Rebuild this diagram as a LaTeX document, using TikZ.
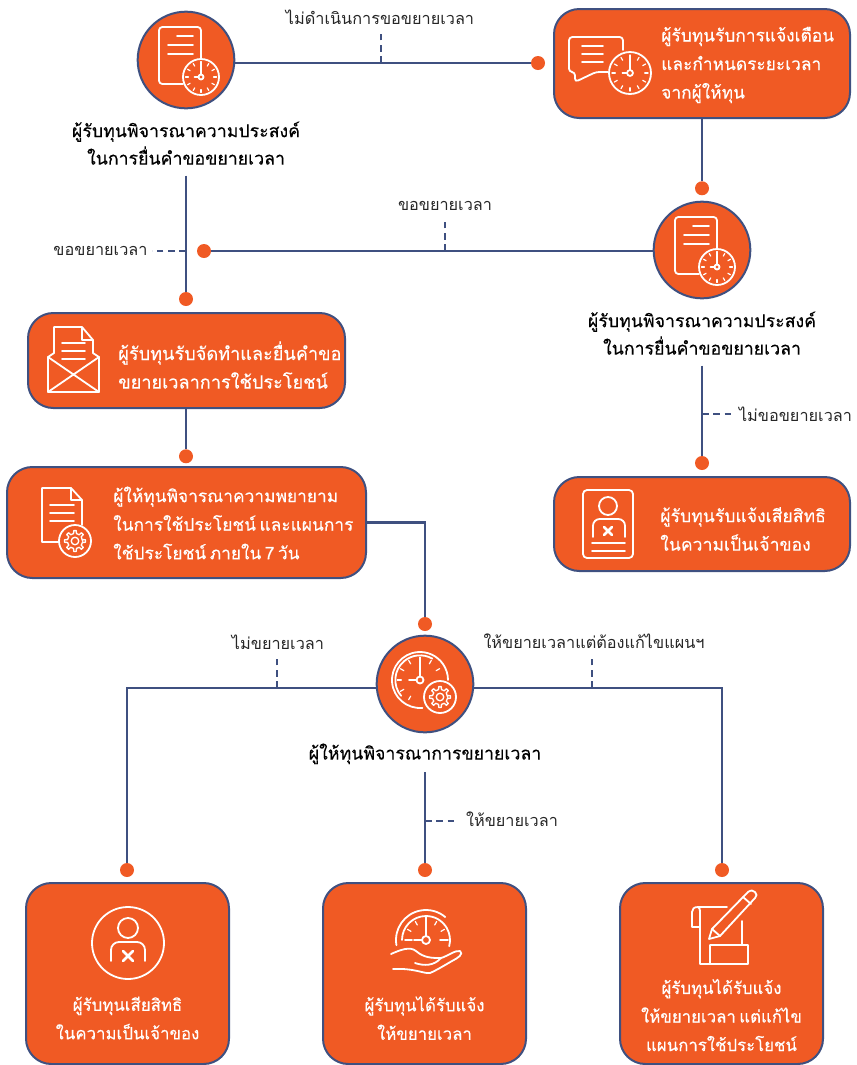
\documentclass[tikz,border=0pt]{standalone}
\usepackage{fontspec}
\setmainfont[Script=Thai,WordSpace=0.6]{Loma}
\newfontfamily\heavyfont[Script=Thai,WordSpace=0.6,FakeBold=0.3]{Loma}
\usepackage{xcolor}
\definecolor{fundorange}{HTML}{F05A24}
\definecolor{fundnavy}{HTML}{3F5080}
\usepackage{tikz}
\usetikzlibrary{positioning}

\tikzset{
    panel/.style={draw=fundnavy,fill=fundorange,line width=1.5pt,rounded corners=19pt,inner sep=0pt},
    hub/.style={circle,draw=fundnavy,fill=fundorange,line width=1.5pt,minimum size=72.5pt,inner sep=0pt},
    dot/.style={circle,fill=fundorange,minimum size=10.5pt,inner sep=0pt},
    link/.style={draw=fundnavy,line width=1.6pt},
    dashlink/.style={draw=fundnavy,line width=1.3pt,dash pattern=on 5pt off 3.5pt},
    words/.style={font=\fontsize{12.2}{21.4}\selectfont,align=center,text=black!85,inner sep=1pt},
    caption/.style={font=\heavyfont\fontsize{13.3}{20.6}\selectfont,align=center,text=black,inner xsep=1pt,inner ysep=8pt},
    inbox/.style={font=\heavyfont\fontsize{13.2}{21.4}\selectfont,align=left,text=white,anchor=west,inner sep=0pt},
    inboxc/.style={font=\heavyfont\fontsize{12.6}{21.4}\selectfont,align=center,text=white,inner sep=0pt},
    icon/.style={draw=white,line width=1.35pt,line cap=round,line join=round},
    pics/clockface/.style={code={
        \draw[icon] (0,0) circle (10);
        \draw[icon] (0,0) circle (1.4);
        \foreach \a in {0,30,...,330} \draw[icon,line width=.9pt] (\a:7) -- (\a:8.6);
        \draw[icon] (0,-1.4) -- (0,-7.5);
        \draw[icon] (-1.4,0) -- (-3.6,0);
    }},
    pics/gearface/.style={code={
        \draw[icon,line width=1pt] (0:7.2) \foreach \a in {0,45,...,315} {-- (\a-11:7.2) -- (\a-7:10) -- (\a+7:10) -- (\a+11:7.2)} -- cycle;
        \draw[icon,line width=1pt] (0,0) circle (3.6);
    }},
    pics/docclock/.style={code={
        \draw[icon,rounded corners=2.5pt] (-3,24) -- (-27,24) -- (-27,-33) -- (15,-33) -- (15,-1);
        \draw[icon] (-9,-24) -- (7,-24) (-18,-15) -- (7,-15) (-18,-6) -- (7,-6);
        \pic[scale=1.8] at (15,17) {clockface};
    }}
}

\begin{document}
\begin{tikzpicture}[x=0.75pt,y=-0.75pt]
    \useasboundingbox (0,0) rectangle (857,1065);

    \node[hub] (c1) at (186,60) {};
    \node[hub] (c2) at (702,250) {};
    \node[hub] (c3) at (425,684) {};

    \node[panel,minimum width=222pt,minimum height=81.75pt] (b1) at (702,63.5) {};
    \node[panel,minimum width=237.75pt,minimum height=71.25pt] (b2) at (186.5,360.5) {};
    \node[panel,minimum width=269.25pt,minimum height=83.25pt] (b3) at (186.5,522.5) {};
    \node[panel,minimum width=222pt,minimum height=70.5pt] (b4) at (702,524) {};
    \node[panel,minimum width=152.25pt,minimum height=135.75pt] (b5) at (127.5,973.5) {};
    \node[panel,minimum width=152.25pt,minimum height=135.75pt] (b6) at (424.5,973.5) {};
    \node[panel,minimum width=152.25pt,minimum height=135.75pt] (b7) at (721.5,973.5) {};

    \node[caption] (t1) [below=1pt of c1] {ผู้รับทุนพิจารณาความประสงค์\\ในการยื่นคำขอขยายเวลา};
    \node[caption] (t2) [below=1pt of c2] {ผู้รับทุนพิจารณาความประสงค์\\ในการยื่นคำขอขยายเวลา};
    \node[caption,inner ysep=6pt] (t3) [below=1.5pt of c3] {ผู้ให้ทุนพิจารณาการขยายเวลา};

    \node[inbox,font=\heavyfont\fontsize{13}{21.4}\selectfont] (s1) at (661,65) {ผู้รับทุนรับการแจ้งเตือน\\และกำหนดระยะเวลา\\จากผู้ให้ทุน};
    \node[inbox,font=\heavyfont\fontsize{13.6}{21.4}\selectfont] (s2) at (118,365) {ผู้รับทุนรับจัดทำและยื่นคำขอ\\ขยายเวลาการใช้ประโยชน์};
    \node[inbox,font=\heavyfont\fontsize{13}{21.4}\selectfont] (s3) at (113,523) {ผู้ให้ทุนพิจารณาความพยายาม\\ในการใช้ประโยชน์ และแผนการ\\ใช้ประโยชน์ ภายใน 7 วัน};
    \node[inbox] (s4) at (660,529) {ผู้รับทุนรับแจ้งเสียสิทธิ\\ในความเป็นเจ้าของ};
    \node[inboxc] (s5) at (127.5,1018) {ผู้รับทุนเสียสิทธิ\\ในความเป็นเจ้าของ};
    \node[inboxc] (s6) at (424.5,1018) {ผู้รับทุนได้รับแจ้ง\\ให้ขยายเวลา};
    \node[inboxc] (s7) at (721.5,1015) {ผู้รับทุนได้รับแจ้ง\\ให้ขยายเวลา แต่แก้ไข\\แผนการใช้ประโยชน์};

    \node[words] (l1) at (380,17) {ไม่ดำเนินการขอขยายเวลา};
    \node[words] (l2) at (445,206) {ขอขยายเวลา};
    \node[words] (l3) at (100.5,251) {ขอขยายเวลา};
    \node[words] (l4) at (795.5,414) {ไม่ขอขยายเวลา};
    \node[words] (l5) at (278,642) {ไม่ขยายเวลา};
    \node[words] (l6) at (594,641) {ให้ขยายเวลาแต่ต้องแก้ไขแผนฯ};
    \node[words] (l7) at (512,819) {ให้ขยายเวลา};

    \node[dot] (d1) at (538,63) {};
    \node[dot] (d2) [below=46.5pt of b1] {};
    \node[dot] (d3) at (204,251) {};
    \node[dot] (d4) at (186,299) {};
    \node[dot] (d5) [below=30pt of b2.south -| c1] {};
    \node[dot] (d6) at (425,624) {};
    \node[dot] (d7) at (702,463) {};
    \node[dot] (d8) at (127,870) {};
    \node[dot] (d9) at (425,870) {};
    \node[dot] (d10) at (722,870) {};

    \path[link] (d1 -| c1.east) edge (d1)
                (b1) edge (d2)
                (d3) edge (d3 -| c2.west)
                (t1) edge (d4)
                (b2.south -| d5) edge (d5)
                (t2) edge (d7)
                (t3) edge (d9);
    \draw[link] (b3.east) -| (d6);
    \draw[link] (c3.185) -| (d8);
    \draw[link] (c3.-5) -| (d10);

    \path (381,63) coordinate (k1) (381,32) coordinate (k1e);
    \path (445,251) coordinate (k2) (445,220) coordinate (k2e);
    \path (186,251) coordinate (k3) (152,251) coordinate (k3e);
    \path (702,414) coordinate (k4) (733,414) coordinate (k4e);
    \path (277,688) coordinate (k5) (277,657) coordinate (k5e);
    \path (592,688) coordinate (k6) (592,657) coordinate (k6e);
    \path (425,821) coordinate (k7) (457,821) coordinate (k7e);
    \foreach \k in {k1,k2,k3,k4,k5,k6,k7}
        \draw[dashlink] (\k) -- (\k e);

    % icons on the circles
    \pic at (c1) {docclock};
    \pic at (c2) {docclock};
    \draw[icon] (420,680) ++(-85:21pt) arc[start angle=-85,end angle=-360,radius=21pt];
    \draw[icon] (420,680) ++(-140:18.5pt) arc[start angle=-140,end angle=-300,radius=18.5pt];
    \foreach \a in {180,150,120,90,60,30,210,240}
        \draw[icon,line width=.9pt] (420,680) ++(\a:14pt) -- ++(\a:3pt);
    \draw[icon] (420,676.5) -- (420,660) (416.5,680) -- (409,680);
    \draw[icon] (420,680) circle (3.5);
    \draw[icon,fill=fundorange] (440,697) circle (16);
    \pic[scale=1.05] at (440,697) {gearface};

    % bubble and clock
    \draw[icon,rounded corners=2.5pt] (623,50) -- (623,37) -- (569,37) -- (569,72) -- (575,72) -- (575,82) -- (596,72) -- (608,72);
    \draw[icon] (582,46) -- (603,46) (582,54) -- (603,54) (582,62) -- (603,62);
    \pic[scale=2.1] at (630,73) {clockface};

    % letter
    \draw[icon] (54,353) -- (54,327) -- (82,327) -- (93,340) -- (93,353) (82,327) -- (82,340) -- (93,340);
    \draw[icon] (62,343) -- (85,343) (62,351) -- (85,351) (62,359) -- (85,359);
    \draw[icon] (54,353) -- (48,357) -- (48,392) -- (99,392) -- (99,357) -- (93,353);
    \draw[icon] (48,357) -- (99,392) (99,357) -- (48,392);

    % paper and gear
    \draw[icon] (59,542) -- (42,542) -- (42,488) -- (71,488) -- (82,500) -- (82,525) (71,488) -- (71,500) -- (82,500);
    \draw[icon] (50,505) -- (74,505) (50,513) -- (74,513) (50,521) -- (74,521);
    \draw[icon] (75,541) circle (16);
    \pic[scale=1.05] at (75,541) {gearface};

    % card
    \draw[icon,rounded corners=3pt] (583,490) rectangle (633,558);
    \draw[icon] (608,506) circle (9);
    \draw[icon,rounded corners=5pt] (593,537) -- (593,519) -- (625,519) -- (625,537);
    \draw[icon,line width=2pt] (604,527) -- (612,535) (612,527) -- (604,535);
    \draw[icon] (592,543) -- (625,543) (592,551) -- (625,551);

    % lost rights
    \draw[icon] (128,943) circle (36);
    \draw[icon] (128,928) circle (10);
    \draw[icon,rounded corners=6pt] (111,961) -- (111,942) -- (145,942) -- (145,961);
    \draw[icon,line width=2pt] (123,951) -- (133,961) (133,951) -- (123,961);

    % gauge over a hand
    \draw[icon] (426,940) ++(190:22.5pt) arc[start angle=190,end angle=50,radius=22.5pt];
    \draw[icon] (426,940) ++(180:18pt) arc[start angle=180,end angle=-15,radius=18pt];
    \foreach \a in {30,60,120,150}
        \draw[icon,line width=.9pt] (426,940) ++(\a:13pt) -- ++(\a:3pt);
    \draw[icon] (426,936) -- (426,917) (422,940) -- (414,940) (405,940) -- (412,940) (440,940) -- (448,940);
    \draw[icon] (426,940) circle (4);
    \draw[icon] (391,954) .. controls (400,950) and (410,946) .. (416,951) .. controls (424,958) and (432,958) .. (441,958) .. controls (448,956) and (455,950) .. (460,951) .. controls (464,954) and (458,958) .. (452,961) .. controls (445,965) and (437,970) .. (430,973) .. controls (424,974) and (415,968) .. (393,969);
    \draw[icon] (415,963) .. controls (424,966) and (434,966) .. (441,958);

    % scroll and pencil
    \draw[icon] (727,907) -- (698,907) .. controls (694,907) and (692,909) .. (692,912) -- (692,927) -- (700,927);
    \draw[icon] (698,907) .. controls (700,908) and (700,910) .. (700,912) -- (700,964) -- (748,964) -- (748,945) -- (710,945) -- (710,964);
    \draw[icon] (742,921) -- (742,945);
    \draw[icon,line join=round] (709,939) -- (712,929) -- (748,892) .. controls (751,890) and (753,890) .. (755,892) .. controls (757,894) and (757,896) .. (755,898) -- (720,936) -- cycle;
    \draw[icon] (712,929) -- (720,936) (743,897) -- (751,904);
\end{tikzpicture}
\end{document}
